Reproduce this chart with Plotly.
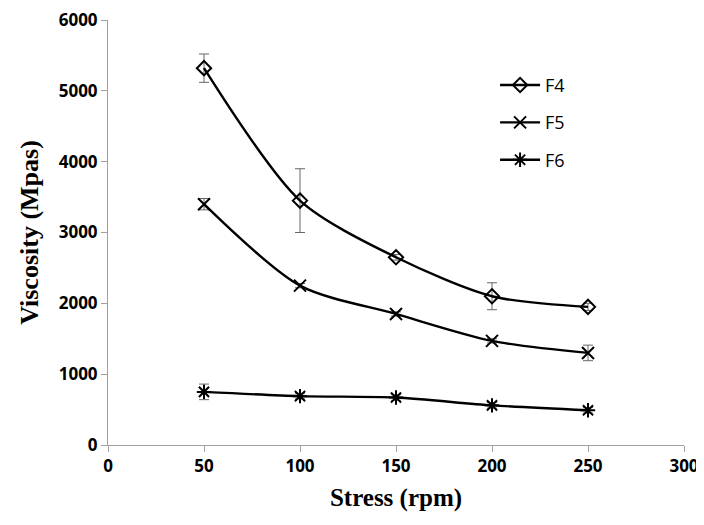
import plotly.graph_objects as go

stress = [50, 100, 150, 200, 250]
f4 = [5320, 3450, 2650, 2100, 1950]
f4_err = [200, 450, 40, 190, 50]
f5 = [3400, 2250, 1850, 1470, 1300]
f5_err = [80, 30, 30, 30, 110]
f6 = [750, 690, 670, 560, 490]
f6_err = [110, 40, 40, 40, 40]

series = [
    ("F4", f4, f4_err, "diamond-open", 11),
    ("F5", f5, f5_err, "x-thin-open", 12),
    ("F6", f6, f6_err, "asterisk-open", 12),
]

fig = go.Figure()
for name, vals, errs, sym, msize in series:
    fig.add_trace(go.Scatter(
        x=stress, y=vals, name=name, legendgroup=name, mode="lines+markers",
        line=dict(color="black", width=2.4, shape="spline", smoothing=0.8),
        marker=dict(symbol=sym, size=msize, color="black", line=dict(width=2, color="black")),
        error_y=dict(type="data", array=errs, visible=True, color="#666666", thickness=1, width=5),
    ))

tickfont = dict(family="Open Sans", size=17, color="black", weight="bold")
fig.update_layout(
    width=696, height=517,
    margin=dict(l=100, r=20, t=12, b=80, autoexpand=False),
    paper_bgcolor="white", plot_bgcolor="white",
    showlegend=True,
    legend=dict(x=0.672, y=0.89, xanchor="left", yanchor="top",
                font=dict(family="Open Sans", size=18, color="black"),
                bgcolor="rgba(0,0,0,0)", tracegroupgap=11, itemwidth=40),
    xaxis=dict(range=[0, 300], tickvals=[0, 50, 100, 150, 200, 250, 300],
               showline=True, linecolor="#a0a0a0", linewidth=1,
               ticks="outside", ticklen=6, tickcolor="#a0a0a0",
               showgrid=False, zeroline=False, tickfont=tickfont, automargin=False,
               ticklabeloverflow="allow",
               title=dict(text="Stress (rpm)", font=dict(family="Liberation Serif", size=25, color="black", weight="bold"), standoff=12)),
    yaxis=dict(range=[0, 6000], tickvals=[0, 1000, 2000, 3000, 4000, 5000, 6000],
               showline=True, linecolor="#a0a0a0", linewidth=1,
               ticks="outside", ticklen=6, tickcolor="#a0a0a0",
               showgrid=False, zeroline=False, tickfont=tickfont, automargin=False,
               ticklabeloverflow="allow",
               title=dict(text="Viscosity (Mpas)", font=dict(family="Liberation Serif", size=26, color="black", weight="bold"), standoff=12)),
)

fig.write_html("out.html")
